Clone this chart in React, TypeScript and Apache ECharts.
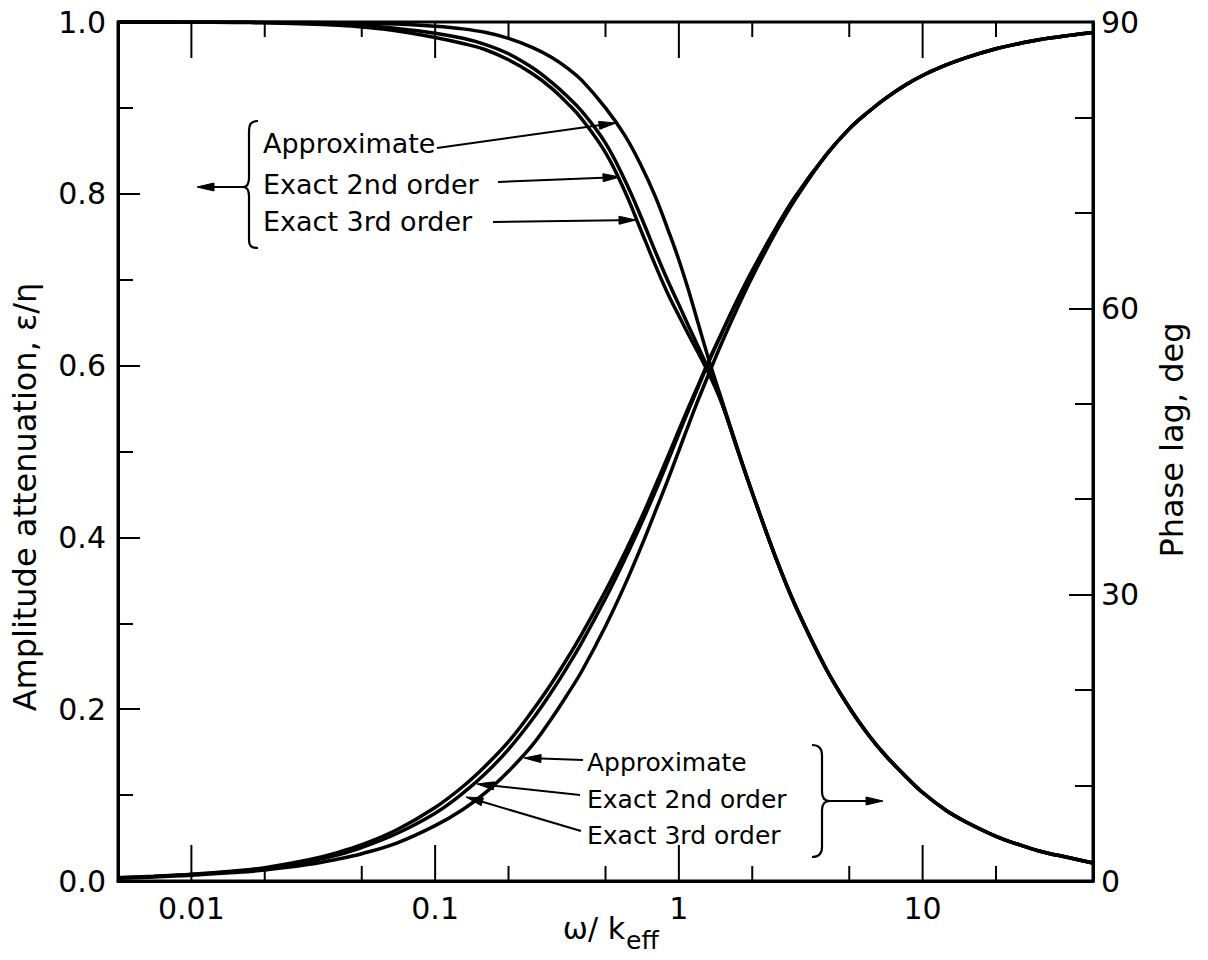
import React, { useEffect, useRef } from "react";
import * as echarts from "echarts";

// ---- data ----
const omega = [0.005, 0.007, 0.01, 0.015, 0.02, 0.03, 0.04, 0.05, 0.07, 0.1, 0.13, 0.16, 0.2, 0.25, 0.3, 0.35, 0.4, 0.5, 0.6, 0.7, 0.8, 0.9, 1.0, 1.1, 1.2, 1.35, 1.5, 1.75, 2, 2.5, 3, 4, 5, 6, 7, 8.5, 10, 12.5, 15, 20, 25, 30, 40, 50];
const ampApprox = [1.0, 1.0, 1.0, 1.0, 0.9998, 0.9996, 0.9992, 0.9988, 0.9976, 0.995, 0.992, 0.988, 0.981, 0.9705, 0.959, 0.946, 0.932, 0.9, 0.868, 0.833, 0.797, 0.759, 0.723, 0.686, 0.649, 0.6, 0.56, 0.501, 0.452, 0.376, 0.321, 0.248, 0.202, 0.17, 0.147, 0.122, 0.103, 0.082, 0.069, 0.052, 0.042, 0.035, 0.027, 0.021];
const amp2nd = [1.0, 1.0, 1.0, 0.9997, 0.9994, 0.9985, 0.9974, 0.996, 0.9925, 0.987, 0.981, 0.974, 0.963, 0.947, 0.93, 0.913, 0.896, 0.859, 0.816, 0.773, 0.733, 0.699, 0.671, 0.645, 0.622, 0.59, 0.557, 0.5, 0.452, 0.376, 0.321, 0.248, 0.202, 0.17, 0.147, 0.122, 0.103, 0.082, 0.069, 0.052, 0.042, 0.035, 0.027, 0.021];
const amp3rd = [1.0, 1.0, 0.9998, 0.9995, 0.999, 0.9978, 0.9962, 0.9942, 0.9895, 0.982, 0.975, 0.968, 0.956, 0.94, 0.923, 0.905, 0.887, 0.848, 0.803, 0.757, 0.717, 0.684, 0.658, 0.635, 0.615, 0.586, 0.556, 0.5, 0.452, 0.376, 0.321, 0.248, 0.202, 0.17, 0.147, 0.122, 0.103, 0.082, 0.069, 0.052, 0.042, 0.035, 0.027, 0.021];
const phaseApprox = [0.3, 0.42, 0.6, 0.88, 1.15, 1.72, 2.3, 2.86, 4.0, 5.8, 7.5, 9.2, 11.5, 14.2, 17.0, 19.6, 22.0, 26.7, 31.0, 35.0, 38.7, 42.0, 45.1, 47.9, 50.4, 53.6, 56.4, 60.2, 63.3, 68.0, 71.4, 76.0, 78.8, 80.6, 81.95, 83.4, 84.4, 85.5, 86.25, 87.2, 87.75, 88.15, 88.6, 88.9];
const phase2nd = [0.33, 0.47, 0.67, 1.0, 1.32, 2.02, 2.75, 3.5, 5.0, 7.1, 9.2, 11.2, 13.8, 16.9, 19.8, 22.5, 25.0, 29.6, 33.7, 37.4, 40.8, 43.95, 46.85, 49.45, 51.75, 54.85, 57.4, 61.0, 63.9, 68.35, 71.65, 76.0, 78.8, 80.6, 81.95, 83.4, 84.4, 85.5, 86.25, 87.2, 87.75, 88.15, 88.6, 88.9];
const phase3rd = [0.35, 0.5, 0.7, 1.05, 1.4, 2.2, 3.0, 3.8, 5.4, 7.7, 9.9, 12.0, 14.6, 17.8, 20.7, 23.4, 25.9, 30.4, 34.4, 38.0, 41.4, 44.45, 47.25, 49.75, 51.95, 54.95, 57.45, 61.05, 63.95, 68.4, 71.7, 76.0, 78.8, 80.6, 81.95, 83.4, 84.4, 85.5, 86.25, 87.2, 87.75, 88.15, 88.6, 88.9];

const xTicks = [0.01, 0.02, 0.05, 0.1, 0.2, 0.5, 1, 2, 5, 10, 20];
const xMajorTicks = [0.01, 0.1, 1, 10];
const xTickLabels = ["0.01", "0.1", "1", "10"];
const ampTickLabels = ["0.0", "0.2", "0.4", "0.6", "0.8", "1.0"];
const phaseTickLabels = ["0", "30", "60", "90"];

const K = "#000";
const FONT = "'DejaVu Sans', 'Noto Sans', sans-serif";

function arrowEls(x1: number, y1: number, x2: number, y2: number, head = 17, half = 4) {
  const dx = x2 - x1, dy = y2 - y1;
  const L = Math.hypot(dx, dy);
  const ux = dx / L, uy = dy / L;
  const bx = x2 - ux * head, by = y2 - uy * head;
  return [
    { type: "line", shape: { x1, y1, x2: bx, y2: by }, style: { stroke: K, lineWidth: 2 } },
    {
      type: "polygon",
      shape: { points: [[x2, y2], [bx - uy * half, by + ux * half], [bx + uy * half, by - ux * half]] },
      style: { fill: K, stroke: K, lineWidth: 1 },
    },
  ];
}

function bez(x1: number, y1: number, c1x: number, c1y: number, c2x: number, c2y: number, x2: number, y2: number) {
  return {
    type: "bezierCurve",
    shape: { x1, y1, cpx1: c1x, cpy1: c1y, cpx2: c2x, cpy2: c2y, x2, y2 },
    style: { stroke: K, lineWidth: 2.2, fill: null },
  };
}
function seg(x1: number, y1: number, x2: number, y2: number) {
  return { type: "line", shape: { x1, y1, x2, y2 }, style: { stroke: K, lineWidth: 2.2 } };
}
function label(text: string, x: number, y: number, size: number) {
  return {
    type: "text",
    x,
    y,
    style: { text, fill: K, font: `${size}px ${FONT}`, textAlign: "left", textVerticalAlign: "middle" },
  };
}

function xLabel(v: number) {
  for (let i = 0; i < xMajorTicks.length; i++) {
    if (Math.abs(v - xMajorTicks[i]) / xMajorTicks[i] < 1e-6) return xTickLabels[i];
  }
  return "";
}

const lineSeries = (name: string, ys: number[], yAxisIndex: number) => ({
  name,
  type: "line",
  xAxisIndex: 0,
  yAxisIndex,
  data: omega.map((x, i) => [x, ys[i]]),
  showSymbol: false,
  symbol: "none",
  smooth: 0.4,
  lineStyle: { color: K, width: 3.5 },
  z: 3,
});

export default function App() {
  const ref = useRef<HTMLDivElement>(null);
  useEffect(() => {
    const chart = echarts.init(ref.current as HTMLDivElement, null, { renderer: "svg" });

    const graphics: any[] = [
      // upper-left annotation
      bez(258, 121, 251, 121, 249, 124, 249, 132),
      seg(249, 132, 249, 178),
      bez(249, 178, 249, 184, 247, 187, 243, 187),
      bez(243, 187, 247, 187, 249, 190, 249, 196),
      seg(249, 196, 249, 239),
      bez(249, 239, 249, 246, 251, 248, 258, 248),
      ...arrowEls(243, 187, 197, 187),
      label("Approximate", 263, 143, 27),
      label("Exact 2nd order", 263, 184, 27),
      label("Exact 3rd order", 263, 221, 27),
      ...arrowEls(437, 148, 616, 123),
      ...arrowEls(498, 182, 620, 177),
      ...arrowEls(493, 222, 636, 220),
      // lower annotation
      label("Approximate", 587, 762, 25),
      label("Exact 2nd order", 587, 799, 25),
      label("Exact 3rd order", 587, 835, 25),
      ...arrowEls(583, 760, 524, 758),
      ...arrowEls(580, 795, 477, 784),
      ...arrowEls(581, 831, 466, 797),
      bez(812, 745, 819, 745, 822, 748, 822, 755),
      seg(822, 755, 822, 792),
      bez(822, 792, 822, 798, 825, 801, 830, 801),
      bez(830, 801, 825, 801, 822, 804, 822, 810),
      seg(822, 810, 822, 847),
      bez(822, 847, 822, 854, 819, 857, 812, 857),
      ...arrowEls(830, 801, 883, 801),
      // axis titles
      {
        type: "text",
        x: 25,
        y: 497,
        rotation: Math.PI / 2,
        style: { text: "Amplitude attenuation, ε/η", fill: K, font: `32px ${FONT}`, textAlign: "center", textVerticalAlign: "middle" },
      },
      {
        type: "text",
        x: 1172,
        y: 440,
        rotation: Math.PI / 2,
        style: { text: "Phase lag, deg", fill: K, font: `32px ${FONT}`, textAlign: "center", textVerticalAlign: "middle" },
      },
      {
        type: "text",
        x: 625,
        y: 928,
        style: { text: "ω/ k", fill: K, font: `30px ${FONT}`, textAlign: "right", textVerticalAlign: "middle" },
      },
      {
        type: "text",
        x: 626,
        y: 940,
        style: { text: "eff", fill: K, font: `25px ${FONT}`, textAlign: "left", textVerticalAlign: "middle" },
      },
    ];

    const option: any = {
      animation: false,
      backgroundColor: "#fff",
      grid: { left: 118, right: 115, top: 22, bottom: 79, show: true, borderColor: K, borderWidth: 3, backgroundColor: "transparent" },
      xAxis: [
        {
          type: "log",
          logBase: 10,
          min: 0.005,
          max: 50,
          position: "bottom",
          axisLine: { show: true, onZero: false, lineStyle: { color: K, width: 3 } },
          axisTick: { show: false },
          minorTick: { show: false },
          splitLine: { show: false },
          axisLabel: { formatter: xLabel, color: K, fontSize: 30, fontFamily: FONT, margin: 12, showMinLabel: true, showMaxLabel: true },
        },
      ],
      yAxis: [
        {
          type: "value",
          min: 0,
          max: 1,
          interval: 0.2,
          position: "left",
          axisLine: { show: true, onZero: false, lineStyle: { color: K, width: 3 } },
          axisTick: { show: true, inside: true, length: 22, lineStyle: { color: K, width: 2 } },
          minorTick: { show: true, splitNumber: 2, length: 15, lineStyle: { color: K, width: 2 } },
          splitLine: { show: false },
          minorSplitLine: { show: false },
          axisLabel: {
            formatter: (v: number) => ampTickLabels[Math.round(v / 0.2)] ?? "",
            color: K,
            fontSize: 30,
            fontFamily: FONT,
            margin: 12,
          },
        },
        {
          type: "value",
          min: 0,
          max: 90,
          interval: 30,
          position: "right",
          axisLine: { show: true, onZero: false, lineStyle: { color: K, width: 3 } },
          axisTick: { show: true, inside: true, length: 24, lineStyle: { color: K, width: 2 } },
          minorTick: { show: true, splitNumber: 3, length: 18, lineStyle: { color: K, width: 2 } },
          splitLine: { show: false },
          minorSplitLine: { show: false },
          axisLabel: {
            formatter: (v: number) => phaseTickLabels[Math.round(v / 30)] ?? "",
            color: K,
            fontSize: 30,
            fontFamily: FONT,
            margin: 8,
          },
        },
      ],
      series: [
        lineSeries("Approximate amplitude", ampApprox, 0),
        lineSeries("Exact 2nd order amplitude", amp2nd, 0),
        lineSeries("Exact 3rd order amplitude", amp3rd, 0),
        lineSeries("Approximate phase", phaseApprox, 1),
        lineSeries("Exact 2nd order phase", phase2nd, 1),
        lineSeries("Exact 3rd order phase", phase3rd, 1),
        {
          type: "custom",
          name: "x ticks",
          xAxisIndex: 0,
          yAxisIndex: 0,
          silent: true,
          clip: false,
          z: 5,
          data: xTicks.map((v) => [v, xMajorTicks.indexOf(v) >= 0 ? 1 : 0]),
          renderItem: (_p: any, api: any) => {
            const v = api.value(0);
            const major = api.value(1) === 1;
            const b = api.coord([v, 0]);
            const t = api.coord([v, 1]);
            const len = major ? 36 : 15;
            return {
              type: "group",
              children: [
                { type: "line", shape: { x1: b[0], y1: b[1], x2: b[0], y2: b[1] - len }, style: { stroke: K, lineWidth: 2 } },
                { type: "line", shape: { x1: t[0], y1: t[1], x2: t[0], y2: t[1] + len }, style: { stroke: K, lineWidth: 2 } },
              ],
            };
          },
        },
      ],
      graphic: graphics,
    };
    chart.setOption(option);
    return () => chart.dispose();
  }, []);
  return <div ref={ref} style={{ position: "absolute", left: 0, top: 0, width: 1208, height: 960, background: "#fff" }} />;
}
